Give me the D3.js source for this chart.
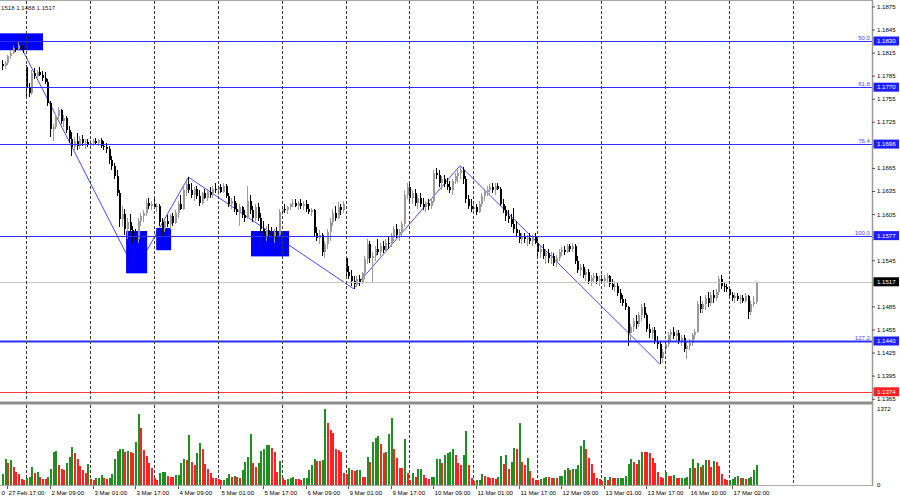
<!DOCTYPE html>
<html><head><meta charset="utf-8">
<script src="https://cdn.jsdelivr.net/npm/d3@7"></script>
<style>body{margin:0;background:#fff}svg{display:block;font-family:"Liberation Sans",Arial,sans-serif}</style>
</head><body><svg id="c" width="900" height="500"></svg>
<script>
// ---- DATA (EURUSD H1, 27 Feb 17:00 - 17 Mar 11:00) ----
const opens = [1.1800,1.1797,1.1802,1.1810,1.1815,1.1821,1.1819,1.1825,1.1820,1.1796,
1.1770,1.1762,1.1788,1.1784,1.1790,1.1786,1.1782,1.1777,1.1750,1.1715,
1.1718,1.1732,1.1740,1.1726,1.1730,1.1714,1.1702,1.1692,1.1700,1.1694,
1.1703,1.1697,1.1699,1.1696,1.1698,1.1700,1.1697,1.1701,1.1694,1.1692,
1.1690,1.1675,1.1668,1.1655,1.1632,1.1598,1.1605,1.1585,1.1595,1.1584,
1.1575,1.1572,1.1596,1.1602,1.1606,1.1620,1.1616,1.1618,1.1614,1.1616,
1.1595,1.1586,1.1596,1.1592,1.1602,1.1594,1.1606,1.1618,1.1612,1.1636,
1.1644,1.1636,1.1630,1.1638,1.1628,1.1620,1.1632,1.1626,1.1634,1.1630,
1.1638,1.1636,1.1640,1.1634,1.1642,1.1628,1.1618,1.1622,1.1612,1.1608,
1.1614,1.1604,1.1600,1.1622,1.1610,1.1600,1.1614,1.1600,1.1586,1.1576,
1.1584,1.1580,1.1576,1.1582,1.1578,1.1608,1.1612,1.1610,1.1614,1.1618,
1.1620,1.1616,1.1619,1.1615,1.1618,1.1612,1.1608,1.1610,1.1580,1.1574,
1.1578,1.1556,1.1566,1.1582,1.1595,1.1606,1.1600,1.1614,1.1610,1.1548,
1.1530,1.1525,1.1518,1.1514,1.1520,1.1516,1.1528,1.1546,1.1566,1.1548,
1.1550,1.1560,1.1556,1.1564,1.1558,1.1568,1.1566,1.1576,1.1586,1.1578,
1.1582,1.1592,1.1630,1.1640,1.1626,1.1632,1.1620,1.1626,1.1618,1.1614,
1.1619,1.1616,1.1622,1.1658,1.1656,1.1646,1.1650,1.1644,1.1640,1.1636,
1.1648,1.1654,1.1658,1.1662,1.1650,1.1624,1.1616,1.1612,1.1614,1.1608,
1.1618,1.1628,1.1634,1.1636,1.1640,1.1636,1.1642,1.1638,1.1618,1.1610,
1.1602,1.1598,1.1592,1.1586,1.1580,1.1572,1.1576,1.1572,1.1574,1.1570,
1.1575,1.1568,1.1556,1.1560,1.1550,1.1554,1.1548,1.1550,1.1542,1.1548,
1.1556,1.1558,1.1556,1.1563,1.1560,1.1564,1.1544,1.1532,1.1536,1.1526,
1.1530,1.1518,1.1522,1.1524,1.1518,1.1520,1.1518,1.1522,1.1524,1.1514,
1.1510,1.1512,1.1502,1.1494,1.1490,1.1484,1.1450,1.1458,1.1466,1.1462,
1.1474,1.1484,1.1474,1.1456,1.1450,1.1454,1.1440,1.1436,1.1418,1.1430,
1.1436,1.1448,1.1452,1.1446,1.1450,1.1440,1.1444,1.1430,1.1434,1.1438,
1.1448,1.1452,1.1488,1.1482,1.1488,1.1496,1.1490,1.1500,1.1496,1.1504,
1.1520,1.1512,1.1510,1.1508,1.1500,1.1496,1.1498,1.1494,1.1496,1.1492,
1.1498,1.1478,1.1488,1.1491];
const highs = [1.1805,1.1804,1.1812,1.1818,1.1824,1.1828,1.1830,1.1829,1.1824,1.1799,
1.1775,1.1792,1.1795,1.1792,1.1796,1.1791,1.1790,1.1780,1.1752,1.1722,
1.1735,1.1744,1.1742,1.1734,1.1732,1.1720,1.1712,1.1705,1.1710,1.1706,
1.1708,1.1702,1.1703,1.1701,1.1702,1.1704,1.1703,1.1704,1.1700,1.1697,
1.1693,1.1680,1.1672,1.1662,1.1636,1.1615,1.1612,1.1600,1.1605,1.1590,
1.1586,1.1600,1.1606,1.1610,1.1625,1.1626,1.1622,1.1624,1.1620,1.1618,
1.1600,1.1600,1.1604,1.1605,1.1607,1.1610,1.1622,1.1630,1.1640,1.1648,
1.1653,1.1645,1.1640,1.1642,1.1636,1.1634,1.1638,1.1638,1.1640,1.1642,
1.1645,1.1643,1.1644,1.1646,1.1644,1.1632,1.1626,1.1628,1.1620,1.1618,
1.1616,1.1610,1.1642,1.1630,1.1615,1.1618,1.1620,1.1606,1.1596,1.1590,
1.1592,1.1588,1.1586,1.1588,1.1612,1.1616,1.1618,1.1616,1.1620,1.1624,
1.1625,1.1622,1.1624,1.1622,1.1623,1.1618,1.1613,1.1612,1.1588,1.1584,
1.1580,1.1570,1.1586,1.1600,1.1612,1.1615,1.1621,1.1618,1.1622,1.1550,
1.1538,1.1532,1.1524,1.1525,1.1526,1.1530,1.1550,1.1572,1.1570,1.1556,
1.1564,1.1572,1.1568,1.1570,1.1572,1.1576,1.1580,1.1590,1.1592,1.1586,
1.1596,1.1636,1.1645,1.1645,1.1636,1.1638,1.1630,1.1632,1.1626,1.1622,
1.1624,1.1626,1.1662,1.1665,1.1662,1.1654,1.1656,1.1652,1.1648,1.1650,
1.1658,1.1662,1.1668,1.1666,1.1654,1.1630,1.1624,1.1620,1.1618,1.1622,
1.1632,1.1638,1.1642,1.1644,1.1646,1.1646,1.1646,1.1640,1.1624,1.1616,
1.1610,1.1605,1.1613,1.1596,1.1584,1.1580,1.1580,1.1578,1.1580,1.1578,
1.1580,1.1574,1.1564,1.1566,1.1560,1.1560,1.1556,1.1554,1.1552,1.1560,
1.1562,1.1564,1.1566,1.1566,1.1568,1.1566,1.1550,1.1540,1.1540,1.1534,
1.1534,1.1526,1.1528,1.1528,1.1524,1.1526,1.1526,1.1528,1.1526,1.1520,
1.1518,1.1516,1.1508,1.1500,1.1494,1.1486,1.1462,1.1470,1.1474,1.1478,
1.1488,1.1489,1.1476,1.1462,1.1458,1.1458,1.1446,1.1440,1.1430,1.1440,
1.1452,1.1456,1.1458,1.1454,1.1454,1.1448,1.1448,1.1440,1.1442,1.1450,
1.1456,1.1492,1.1498,1.1492,1.1500,1.1504,1.1504,1.1506,1.1508,1.1524,
1.1526,1.1516,1.1514,1.1512,1.1504,1.1502,1.1502,1.1500,1.1500,1.1502,
1.1500,1.1492,1.1498,1.1518];
const lows = [1.1792,1.1793,1.1799,1.1806,1.1813,1.1816,1.1817,1.1818,1.1814,1.1758,
1.1757,1.1760,1.1780,1.1781,1.1784,1.1778,1.1774,1.1745,1.1705,1.1700,
1.1715,1.1728,1.1722,1.1718,1.1710,1.1698,1.1681,1.1688,1.1688,1.1690,
1.1694,1.1690,1.1692,1.1692,1.1694,1.1696,1.1693,1.1691,1.1688,1.1685,
1.1670,1.1662,1.1650,1.1628,1.1588,1.1588,1.1578,1.1572,1.1580,1.1568,
1.1531,1.1568,1.1590,1.1595,1.1602,1.1612,1.1610,1.1612,1.1608,1.1590,
1.1575,1.1582,1.1588,1.1586,1.1590,1.1592,1.1600,1.1610,1.1610,1.1628,
1.1632,1.1626,1.1622,1.1625,1.1615,1.1617,1.1624,1.1622,1.1626,1.1626,
1.1632,1.1630,1.1632,1.1632,1.1626,1.1614,1.1612,1.1608,1.1604,1.1590,
1.1600,1.1595,1.1598,1.1605,1.1595,1.1596,1.1596,1.1580,1.1558,1.1570,
1.1576,1.1570,1.1568,1.1572,1.1576,1.1604,1.1606,1.1605,1.1610,1.1614,
1.1614,1.1610,1.1612,1.1610,1.1608,1.1605,1.1602,1.1576,1.1570,1.1566,
1.1550,1.1548,1.1560,1.1570,1.1590,1.1596,1.1598,1.1604,1.1606,1.1525,
1.1520,1.1512,1.1508,1.1510,1.1512,1.1514,1.1520,1.1540,1.1542,1.1516,
1.1544,1.1552,1.1550,1.1554,1.1556,1.1560,1.1562,1.1570,1.1574,1.1570,
1.1576,1.1588,1.1624,1.1622,1.1618,1.1616,1.1612,1.1614,1.1610,1.1608,
1.1610,1.1612,1.1620,1.1650,1.1640,1.1636,1.1640,1.1636,1.1632,1.1630,
1.1644,1.1646,1.1650,1.1644,1.1620,1.1612,1.1608,1.1606,1.1604,1.1606,
1.1614,1.1622,1.1628,1.1630,1.1632,1.1630,1.1636,1.1615,1.1606,1.1596,
1.1594,1.1588,1.1580,1.1576,1.1568,1.1566,1.1568,1.1564,1.1566,1.1564,
1.1566,1.1550,1.1548,1.1546,1.1540,1.1542,1.1540,1.1538,1.1536,1.1544,
1.1550,1.1552,1.1554,1.1556,1.1556,1.1540,1.1528,1.1524,1.1522,1.1518,
1.1514,1.1512,1.1516,1.1514,1.1512,1.1514,1.1510,1.1516,1.1510,1.1506,
1.1504,1.1498,1.1490,1.1486,1.1480,1.1434,1.1440,1.1452,1.1456,1.1458,
1.1466,1.1470,1.1452,1.1444,1.1442,1.1436,1.1430,1.1410,1.1412,1.1424,
1.1432,1.1440,1.1442,1.1440,1.1436,1.1434,1.1426,1.1416,1.1428,1.1434,
1.1442,1.1450,1.1476,1.1476,1.1480,1.1484,1.1486,1.1490,1.1492,1.1500,
1.1508,1.1504,1.1504,1.1498,1.1492,1.1490,1.1492,1.1488,1.1490,1.1490,
1.1468,1.1474,1.1484,1.1488];
const closes = [1.1797,1.1802,1.1810,1.1815,1.1821,1.1819,1.1825,1.1820,1.1818,1.1770,
1.1762,1.1788,1.1784,1.1790,1.1786,1.1782,1.1777,1.1750,1.1715,1.1718,
1.1732,1.1740,1.1726,1.1730,1.1714,1.1702,1.1692,1.1700,1.1694,1.1703,
1.1697,1.1699,1.1696,1.1698,1.1700,1.1697,1.1701,1.1694,1.1692,1.1690,
1.1675,1.1668,1.1655,1.1632,1.1598,1.1605,1.1585,1.1595,1.1584,1.1575,
1.1572,1.1596,1.1602,1.1606,1.1620,1.1616,1.1618,1.1614,1.1616,1.1595,
1.1586,1.1596,1.1592,1.1602,1.1594,1.1606,1.1618,1.1612,1.1636,1.1644,
1.1636,1.1630,1.1638,1.1628,1.1620,1.1632,1.1626,1.1634,1.1630,1.1638,
1.1636,1.1640,1.1634,1.1642,1.1628,1.1618,1.1622,1.1612,1.1608,1.1614,
1.1604,1.1600,1.1622,1.1610,1.1600,1.1614,1.1600,1.1586,1.1576,1.1584,
1.1580,1.1576,1.1582,1.1578,1.1608,1.1612,1.1610,1.1614,1.1618,1.1620,
1.1616,1.1619,1.1615,1.1618,1.1612,1.1608,1.1610,1.1580,1.1574,1.1578,
1.1556,1.1566,1.1582,1.1595,1.1606,1.1600,1.1614,1.1610,1.1618,1.1530,
1.1525,1.1518,1.1514,1.1520,1.1516,1.1528,1.1546,1.1566,1.1548,1.1550,
1.1560,1.1556,1.1564,1.1558,1.1568,1.1566,1.1576,1.1586,1.1578,1.1582,
1.1592,1.1630,1.1640,1.1626,1.1632,1.1620,1.1626,1.1618,1.1614,1.1619,
1.1616,1.1622,1.1658,1.1656,1.1646,1.1650,1.1644,1.1640,1.1636,1.1648,
1.1654,1.1658,1.1662,1.1650,1.1624,1.1616,1.1612,1.1614,1.1608,1.1618,
1.1628,1.1634,1.1636,1.1640,1.1636,1.1642,1.1638,1.1618,1.1610,1.1602,
1.1598,1.1592,1.1586,1.1580,1.1572,1.1576,1.1572,1.1574,1.1570,1.1575,
1.1568,1.1556,1.1560,1.1550,1.1554,1.1548,1.1550,1.1542,1.1548,1.1556,
1.1558,1.1556,1.1563,1.1560,1.1564,1.1544,1.1532,1.1536,1.1526,1.1530,
1.1518,1.1522,1.1524,1.1518,1.1520,1.1518,1.1522,1.1524,1.1514,1.1510,
1.1512,1.1502,1.1494,1.1490,1.1484,1.1450,1.1458,1.1466,1.1462,1.1474,
1.1484,1.1474,1.1456,1.1450,1.1454,1.1440,1.1436,1.1418,1.1426,1.1436,
1.1448,1.1452,1.1446,1.1450,1.1440,1.1444,1.1430,1.1434,1.1438,1.1448,
1.1452,1.1488,1.1482,1.1488,1.1496,1.1490,1.1500,1.1496,1.1504,1.1520,
1.1512,1.1510,1.1508,1.1500,1.1496,1.1498,1.1494,1.1496,1.1492,1.1498,
1.1478,1.1488,1.1491,1.1517];
const volumes = [183,458,397,439,323,232,195,92,90,110,
134,323,214,220,134,104,100,134,275,592,
604,348,287,256,384,506,689,580,470,336,
256,201,378,92,73,116,120,165,110,105,
122,183,458,600,641,653,592,600,592,580,
781,1287,1025,622,519,397,305,122,79,214,
226,232,153,140,135,165,170,397,458,445,
903,409,348,573,763,641,366,287,214,116,
110,92,79,85,122,183,140,150,130,125,
256,409,506,915,384,323,397,610,653,714,
720,671,592,226,427,122,73,92,122,140,
104,92,90,122,125,256,348,470,427,420,
445,1372,1110,995,927,641,622,592,201,195,
305,260,240,262,265,140,135,506,409,775,
854,885,732,580,590,915,1202,641,488,305,
300,824,201,73,201,140,275,280,165,122,
104,134,140,458,460,384,531,580,592,641,
531,384,348,531,977,348,122,61,79,85,
183,153,134,116,110,105,128,519,366,531,
287,409,671,653,1110,415,354,488,238,122,
85,80,104,116,140,134,110,116,110,153,
160,256,299,262,275,287,348,702,806,653,
488,372,214,116,92,61,134,79,134,122,
110,115,120,125,153,366,470,409,378,439,
598,592,590,573,488,397,226,134,122,226,
153,150,165,122,110,115,120,128,305,458,
305,384,317,348,445,439,323,421,409,336,
183,104,73,79,104,128,153,116,120,104,
116,140,256,348];
const timeLabels = ["0","27 Feb 17:00","2 Mar 09:00","3 Mar 01:00","3 Mar 17:00","4 Mar 09:00",
"5 Mar 01:00","5 Mar 17:00","6 Mar 09:00","9 Mar 01:00","9 Mar 17:00","10 Mar 09:00","11 Mar 01:00",
"11 Mar 17:00","12 Mar 09:00","13 Mar 01:00","13 Mar 17:00","16 Mar 10:00","17 Mar 02:00"];
const timeLabelBars = [-0.6,2,18,34,50,66,82,98,114,130,146,162,178,194,210,226,242,258,274];
const daySeparatorBars = [9,33,57,81,105,129,153,177,201,225,249,273,297];
const priceTicks = [1.1875,1.1845,1.1815,1.1785,1.1755,1.1725,1.1665,1.1635,1.1605,1.1545,1.1485,1.1455,1.1425,1.1395,1.1365];
const fibRatios = ["50.0","61.8","76.4","100.0","127.2"];
const fibPrices = [1.1830,1.1770,1.1696,1.1577,1.1440];
const lastPrice = 1.1517;
const redLevel = 1.1374;
const zigzagBars = [6,50,70,132,172,247];
const zigzagPrices = [1.1830,1.1531,1.1653,1.1508,1.1668,1.1410];
const zoneBarFrom = [-0.8,46.6,57.9,93.5];
const zoneBarTo = [15.4,54.5,63.5,107.8];
const zoneTop = [1.1840,1.1583,1.1587,1.1583];
const zoneBottom = [1.1818,1.1528,1.1558,1.1550];
const volumeMax = 1372;
const header = "1518 1.1488 1.1517";

// ---- DRAW ----
const svg = d3.select("#c");
const AX = 872;
const FS = 6.1;
const x = d3.scaleLinear().domain([0, 283]).range([2, 2 + 283 * 2.663]);
const y = d3.scaleLinear().domain([1.1365, 1.1875]).range([398.7, 6.4]);
const yv = d3.scaleLinear().domain([0, volumeMax]).range([484.5, 409]);

svg.append("rect").attr("width", 900).attr("height", 500).attr("fill", "#fff");
const main = svg.append("g");
svg.append("defs").append("clipPath").attr("id", "cp").append("rect").attr("x", 0).attr("y", 0).attr("width", AX).attr("height", 401);
const plot = main.append("g").attr("clip-path", "url(#cp)");

// day separators (dashed)
daySeparatorBars.forEach(b => {
  const gx = Math.round(x(b)) + 0.5;
  [[1, 401], [405, 485]].forEach(([a, c]) => {
    main.append("line").attr("x1", gx).attr("x2", gx).attr("y1", a).attr("y2", c)
      .attr("stroke", "#3a3a3a").attr("stroke-dasharray", "3,2").attr("stroke-width", 1);
  });
});

// zigzag
plot.append("path").datum(zigzagBars.map((b, k) => [x(b), y(zigzagPrices[k])]))
  .attr("d", d3.line()).attr("fill", "none").attr("stroke", "#4848ff").attr("stroke-width", 1);

// zones
zoneBarFrom.forEach((b, k) => {
  plot.append("rect").attr("x", x(b)).attr("width", x(zoneBarTo[k]) - x(b))
    .attr("y", y(zoneTop[k])).attr("height", y(zoneBottom[k]) - y(zoneTop[k])).attr("fill", "#0000ff");
});

// candles
const cg = plot.append("g").attr("shape-rendering", "crispEdges");
closes.forEach((c, i) => {
  const o = opens[i], bull = c >= o;
  const col = bull ? "#9a9a9a" : "#000";
  const cx = Math.round(x(i));
  cg.append("rect").attr("x", cx).attr("width", 1).attr("y", y(highs[i])).attr("height", Math.max(1, y(lows[i]) - y(highs[i]))).attr("fill", col);
  const t = y(Math.max(o, c)), bt = y(Math.min(o, c));
  cg.append("rect").attr("x", cx - 0.5).attr("width", 2).attr("y", t).attr("height", Math.max(1, bt - t)).attr("fill", col);
});

// fib + level lines
fibPrices.forEach((p, k) => {
  const ly = Math.round(y(p)) + 0.5;
  plot.append("line").attr("x1", 0).attr("x2", AX).attr("y1", ly).attr("y2", ly)
    .attr("stroke", "#2e2eff").attr("stroke-width", k === 4 ? 2 : 1);
  main.append("text").attr("x", AX - 2).attr("y", ly - 2).attr("text-anchor", "end")
    .attr("font-size", FS).attr("fill", "#4a4aff").text(fibRatios[k]);
});
plot.append("line").attr("x1", 0).attr("x2", AX).attr("y1", Math.round(y(lastPrice)) + 0.5).attr("y2", Math.round(y(lastPrice)) + 0.5)
  .attr("stroke", "#c8c8c8").attr("stroke-width", 1);
plot.append("line").attr("x1", 0).attr("x2", AX).attr("y1", Math.round(y(redLevel)) + 0.5).attr("y2", Math.round(y(redLevel)) + 0.5)
  .attr("stroke", "#ff3a3a").attr("stroke-width", 1);

// header
main.append("text").attr("x", 1).attr("y", 9.5).attr("font-size", FS)
  .attr("fill", "#222").text(header);

// frame
main.append("line").attr("x1", 0).attr("x2", AX).attr("y1", 0.5).attr("y2", 0.5).attr("stroke", "#a8a8a8");
main.append("rect").attr("x", 0).attr("y", 401.5).attr("width", AX + 1).attr("height", 3).attr("fill", "#8c8c8c");
main.append("line").attr("x1", 0).attr("x2", AX).attr("y1", 485.5).attr("y2", 485.5).attr("stroke", "#a8a8a8");
main.append("line").attr("x1", AX + 0.5).attr("x2", AX + 0.5).attr("y1", 0).attr("y2", 486).attr("stroke", "#9a9a9a").attr("stroke-width", 1.5);

// price axis
const yAxis = d3.axisRight(y).tickValues(priceTicks).tickSize(3).tickFormat(d3.format(".4f"));
const ga = main.append("g").attr("transform", `translate(${AX},0)`).call(yAxis);
ga.select(".domain").remove();
ga.selectAll("line").attr("stroke", "#555");
ga.selectAll("text").attr("font-size", FS).attr("fill", "#000").attr("x", 5).attr("font-family", "Liberation Sans, Arial, sans-serif");

// price boxes
const boxes = fibPrices.map(p => [p, "#1e1eff"]).concat([[lastPrice, "#000"], [redLevel, "#ff2020"]]);
boxes.forEach(([p, col]) => {
  const by = y(p);
  main.append("rect").attr("x", AX + 1.5).attr("y", by - 4.5).attr("width", 25.5).attr("height", 9).attr("fill", col);
  main.append("text").attr("x", AX + 5).attr("y", by + 2.2).attr("font-size", FS).attr("fill", "#fff").text(d3.format(".4f")(p));
});

// volumes
const vg = svg.append("g").attr("shape-rendering", "crispEdges");
volumes.forEach((v, i) => {
  const up = i === 0 || v > volumes[i - 1];
  vg.append("rect").attr("x", Math.round(x(i)) - 0.5).attr("width", 2).attr("y", yv(v)).attr("height", yv(0) - yv(v))
    .attr("fill", up ? "#1f8f1f" : "#ff2222");
});
const yvAxis = d3.axisRight(yv).tickValues([0, volumeMax]).tickSize(0).tickFormat(d3.format("d"));
const gv = main.append("g").attr("transform", `translate(${AX},0)`).call(yvAxis);
gv.select(".domain").remove();
gv.selectAll("text").attr("font-size", FS).attr("fill", "#000").attr("x", 5).attr("font-family", "Liberation Sans, Arial, sans-serif");

// time axis
timeLabels.forEach((t, k) => {
  const tx = Math.round(x(timeLabelBars[k])) + 0.5;
  if (k > 0) main.append("line").attr("x1", tx).attr("x2", tx).attr("y1", 486).attr("y2", 489).attr("stroke", "#555");
  main.append("text").attr("x", tx + 1).attr("y", 495).attr("font-size", FS).attr("fill", "#000").text(t);
});
</script></body></html>
